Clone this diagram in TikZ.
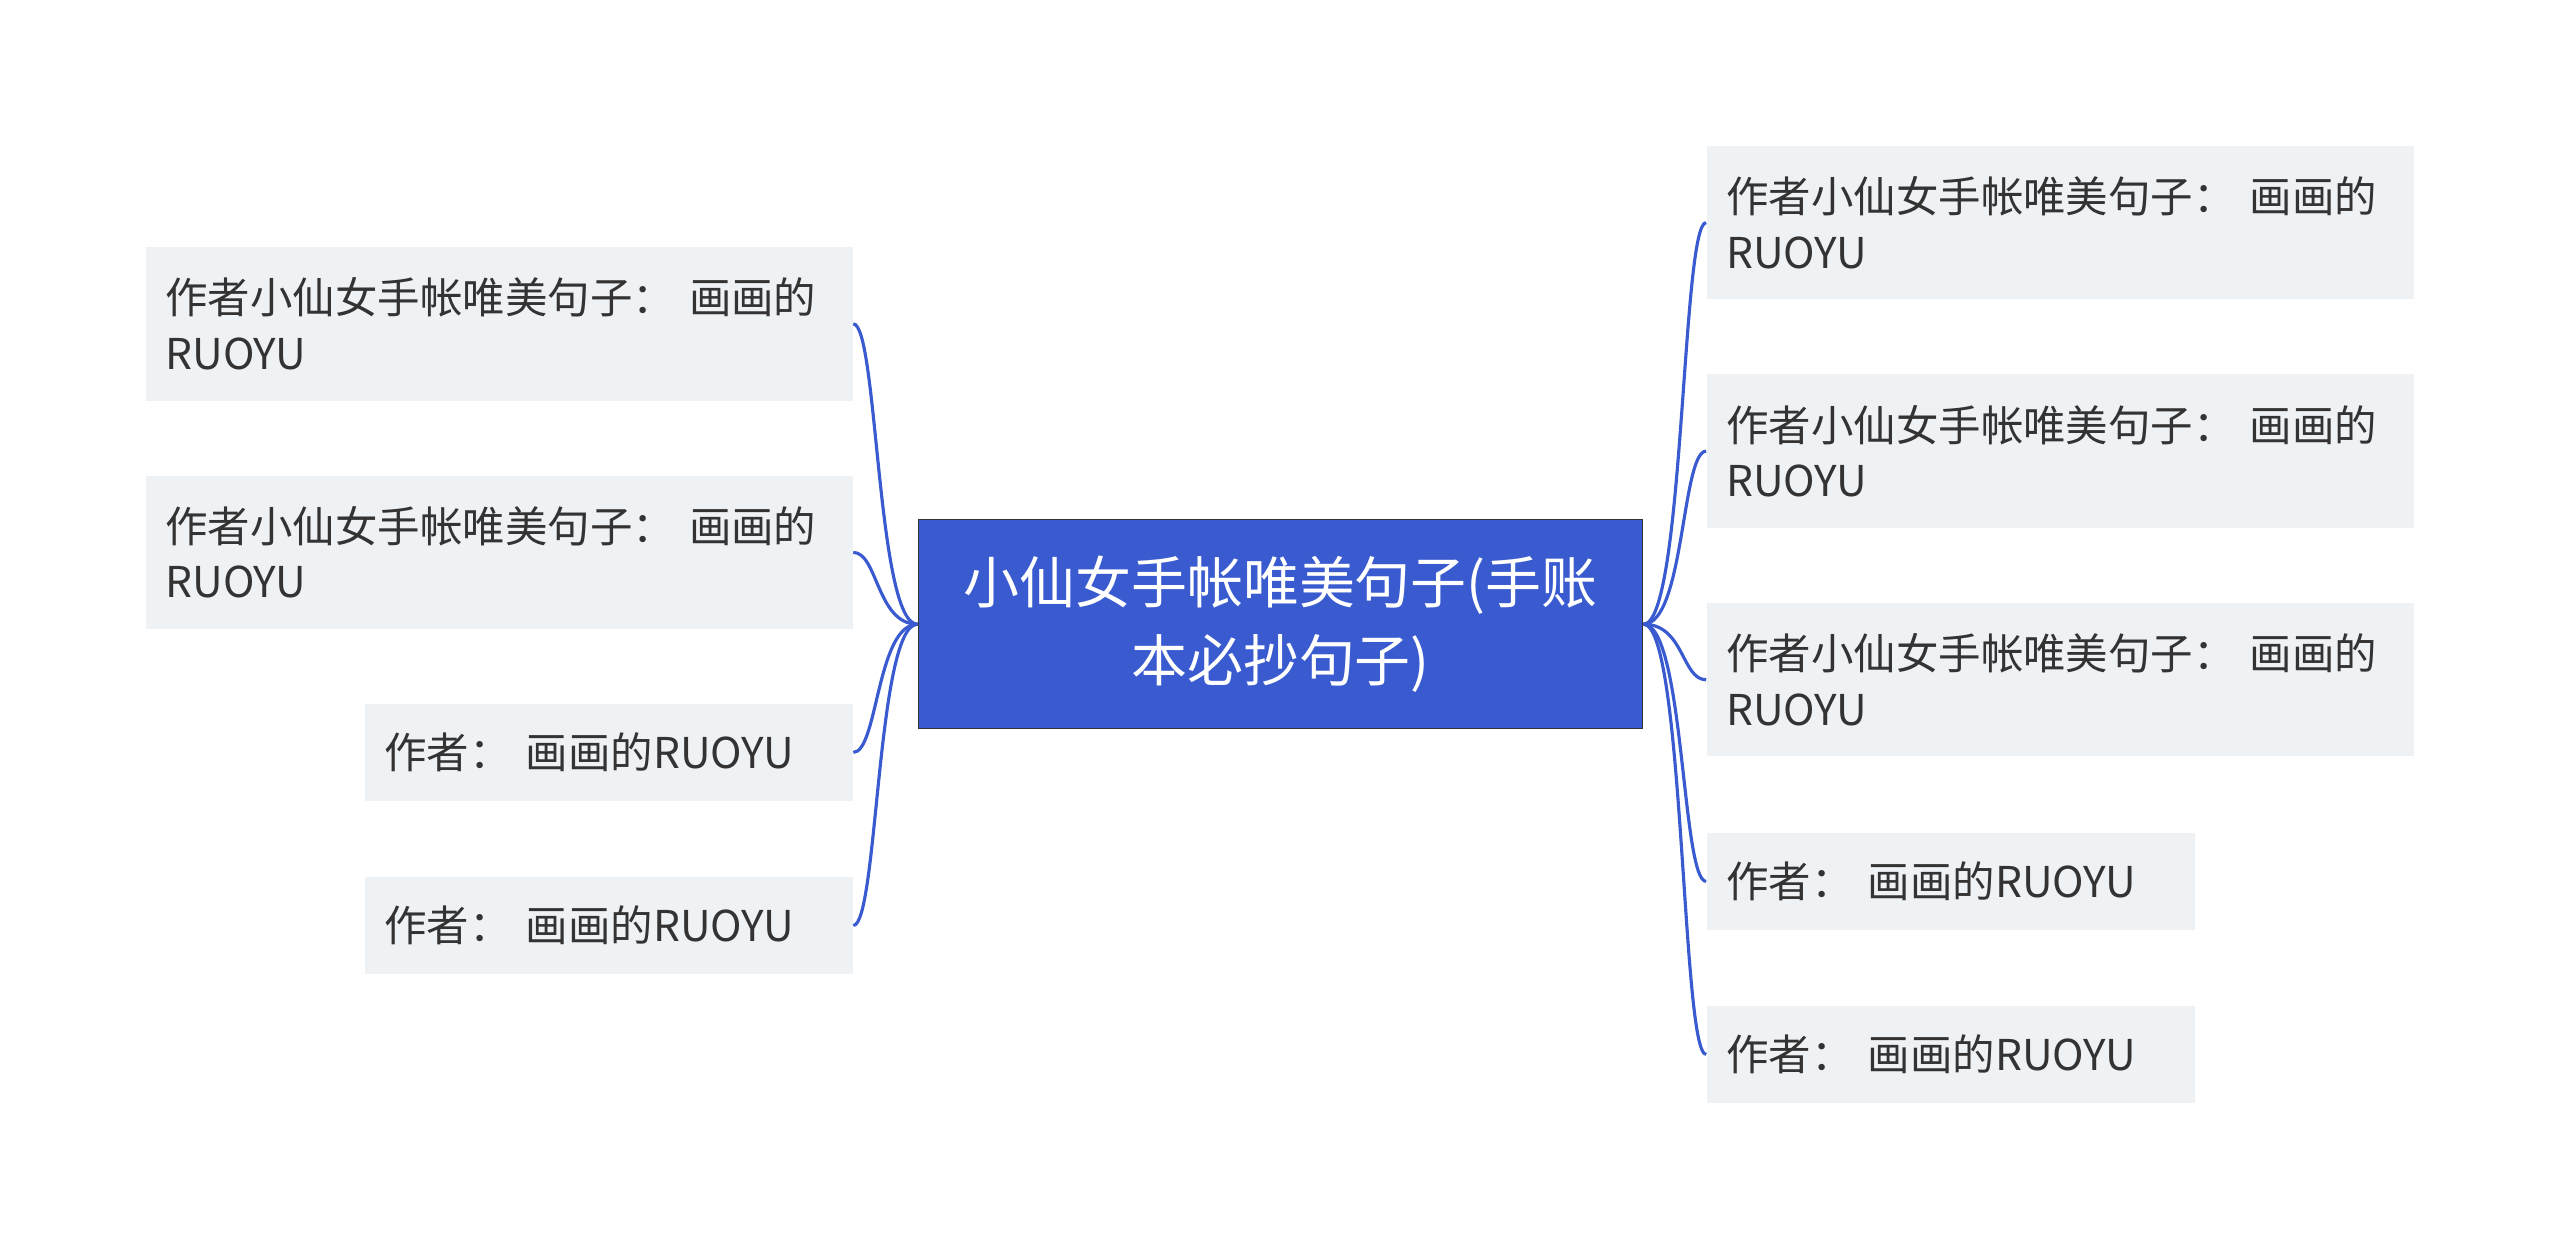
\documentclass[tikz,border=0pt]{standalone}
\usepackage{fontspec}
\setmainfont{Noto Sans CJK SC}
\usetikzlibrary{positioning}
\definecolor{topicblue}{HTML}{3A5BCF}
\definecolor{leafgray}{HTML}{EFF2F5}
\definecolor{inkgray}{HTML}{333333}

\begin{document}
\begin{tikzpicture}[x=0.02cm,y=-0.02cm,
    root/.style={draw=black!80,fill=topicblue,text=white,font=\fontsize{19.5}{27}\selectfont,
      align=center,minimum width=8.88cm,minimum height=2.56cm,anchor=north west,inner sep=0pt},
    leaf/.style={fill=leafgray,text=inkgray,font=\fontsize{14.8}{19.4}\selectfont,
      align=left,anchor=north west,inner xsep=0.24cm,inner ysep=0pt},
    longleaf/.style={leaf,text width=8.18cm,minimum height=1.88cm},
    shortleaf/.style={leaf,text width=5.5cm,minimum height=1.18cm},
    link/.style={draw=topicblue,line width=1.1pt}]
  \useasboundingbox (0,0) rectangle (1568,764);

  \node[root] (hub) at (562,318) {小仙女手帐唯美句子(手账\\本必抄句子)};

  \node[longleaf] (left1) at (89,151) {作者小仙女手帐唯美句子：\ 画画的\\RUOYU};
  \node[longleaf] (left2) at (89,291) {作者小仙女手帐唯美句子：\ 画画的\\RUOYU};
  \node[shortleaf] (left3) at (223,431) {作者：\ 画画的RUOYU};
  \node[shortleaf] (left4) at (223,537) {作者：\ 画画的RUOYU};

  \node[longleaf] (right1) at (1045,89) {作者小仙女手帐唯美句子：\ 画画的\\RUOYU};
  \node[longleaf] (right2) at (1045,229) {作者小仙女手帐唯美句子：\ 画画的\\RUOYU};
  \node[longleaf] (right3) at (1045,369) {作者小仙女手帐唯美句子：\ 画画的\\RUOYU};
  \node[shortleaf] (right4) at (1045,510) {作者：\ 画画的RUOYU};
  \node[shortleaf] (right5) at (1045,616) {作者：\ 画画的RUOYU};

  \foreach \n in {left1,left2,left3,left4}
    \path[link] (hub.west) .. controls +(-25,0) and +(15,0) .. (\n.east);
  \foreach \n in {right1,right2,right3,right4,right5}
    \path[link] (hub.east) .. controls +(25,0) and +(-15,0) .. (\n.west);
\end{tikzpicture}
\end{document}
